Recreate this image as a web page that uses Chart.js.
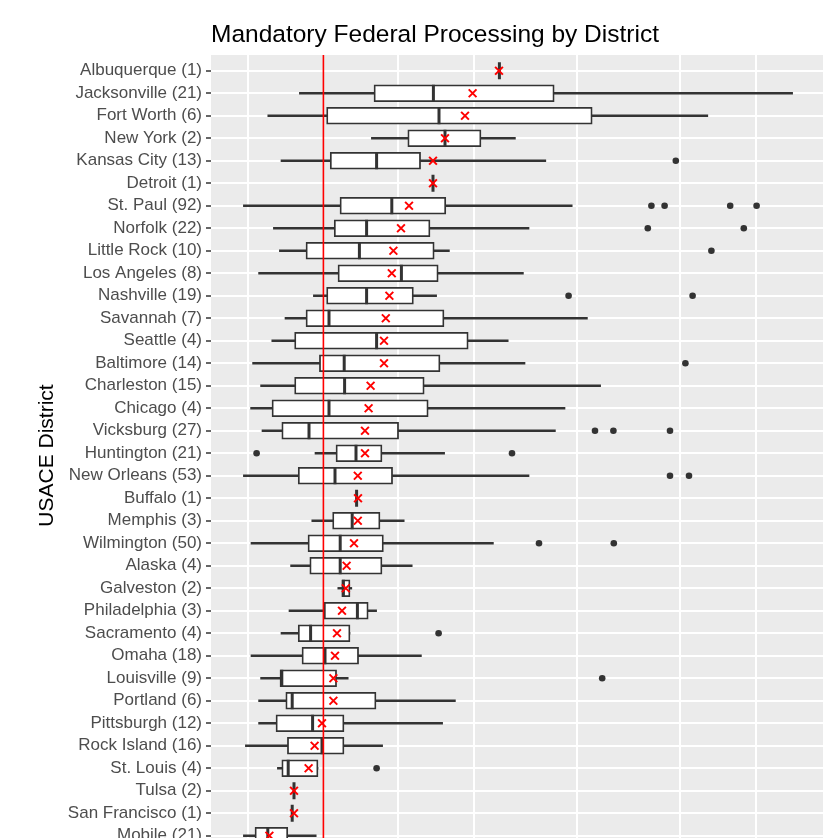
<!DOCTYPE html>
<html>
<head>
<meta charset="utf-8">
<script src="https://cdn.jsdelivr.net/npm/chart.js@4.4.0/dist/chart.umd.min.js"></script>
<style>
html, body { margin: 0; padding: 0; background: #ffffff; overflow: hidden; }
#wrap { width: 823px; height: 838px; overflow: hidden; position: relative; }
#c { position: absolute; left: 0; top: 0; display: block; }
</style>
</head>
<body>
<div id="wrap"><canvas id="c" width="823" height="856" style="width:823px;height:856px"></canvas></div>
<script>
// ---------- data ----------
const chartTitle = 'Mandatory Federal Processing by District';
const yAxisTitle = 'USACE District';

const categories = [
  'Albuquerque (1)', 'Jacksonville (21)', 'Fort Worth (6)', 'New York (2)', 'Kansas City (13)',
  'Detroit (1)', 'St. Paul (92)', 'Norfolk (22)', 'Little Rock (10)', 'Los Angeles (8)',
  'Nashville (19)', 'Savannah (7)', 'Seattle (4)', 'Baltimore (14)', 'Charleston (15)',
  'Chicago (4)', 'Vicksburg (27)', 'Huntington (21)', 'New Orleans (53)', 'Buffalo (1)',
  'Memphis (3)', 'Wilmington (50)', 'Alaska (4)', 'Galveston (2)', 'Philadelphia (3)',
  'Sacramento (4)', 'Omaha (18)', 'Louisville (9)', 'Portland (6)', 'Pittsburgh (12)',
  'Rock Island (16)', 'St. Louis (4)', 'Tulsa (2)', 'San Francisco (1)', 'Mobile (21)'
];

const whiskerLow  = [null, 22.1, 14.2, 40.1, 17.5, null, 8.1, 15.6, 17.1, 11.9, 25.6, 18.5, 15.2, 10.4, 12.4, 9.9, 12.75, 26.0, 8.1, null, 25.2, 10.0, 19.9, 31.7, 19.5, 17.5, 10.0, 12.4, 11.9, 11.9, 8.6, 16.6, null, null, 8.1];
const q1          = [null, 40.75, 28.9, 49.2, 29.8, null, 32.25, 30.8, 23.75, 31.75, 28.9, 23.75, 20.9, 27.1, 20.9, 15.25, 17.7, 31.25, 21.8, null, 30.4, 24.25, 24.7, 32.7, 28.3, 21.8, 22.75, 17.25, 18.7, 16.25, 19.1, 17.7, null, null, 11.0];
const median      = [72.1, 55.6, 57.0, 58.5, 41.4, 55.5, 45.2, 38.9, 37.1, 47.6, 38.9, 29.5, 41.4, 33.3, 33.4, 29.5, 24.5, 36.25, 31.0, 36.4, 35.3, 32.3, 32.3, 33.1, 36.6, 24.9, 28.5, 17.7, 20.3, 25.4, 27.75, 19.3, 20.75, 20.3, 14.2];
const q3          = [null, 85.8, 95.3, 67.5, 52.4, null, 58.7, 54.75, 55.8, 56.8, 50.6, 58.25, 64.3, 57.25, 53.3, 54.3, 46.9, 42.75, 45.4, null, 42.25, 43.1, 42.75, 34.75, 39.3, 34.75, 36.9, 31.4, 41.25, 33.25, 33.25, 26.75, null, null, 19.2];
const whiskerHigh = [null, 145.4, 124.2, 76.1, 83.7, null, 90.3, 79.5, 59.6, 78.1, 56.4, 94.1, 74.3, 78.5, 97.4, 88.5, 86.1, 58.4, 79.5, null, 48.3, 70.6, 50.3, 35.2, 41.4, null, 52.6, 34.3, 61.1, 57.9, 42.9, null, null, null, 26.3];
const means       = [72.0, 65.4, 63.5, 58.5, 55.5, 55.5, 49.5, 47.5, 45.6, 45.2, 44.6, 43.7, 43.25, 43.25, 39.9, 39.4, 38.5, 38.5, 36.7, 36.75, 36.7, 35.75, 33.9, 33.7, 32.75, 31.5, 31.0, 30.6, 30.6, 27.75, 25.9, 24.4, 20.75, 20.75, 14.6];
const outliers = [
  [], [], [], [], [116.2],
  [], [110.1, 113.4, 129.8, 136.4], [109.2, 133.2], [125.1], [],
  [89.4, 120.4], [], [], [118.6], [],
  [], [96.0, 100.6, 114.75], [11.4, 75.25], [114.75, 119.5], [],
  [], [82.0, 100.7], [], [], [],
  [56.9], [], [97.8], [], [],
  [], [41.4], [], [], []
];
const referenceValue = 28.1;
const gridValues = [9.25, 46.75, 65.75, 91.5, 117.25, 136.25];
const xMin = 0, xMax = 153;
const yMin = -0.7, yMax = 34.9;

// ---------- derived tables ----------
const rows = categories.map((_, i) => i);
const whiskerData = rows
  .filter(i => whiskerLow[i] != null || whiskerHigh[i] != null)
  .map(i => ({ x: [whiskerLow[i] ?? q1[i], whiskerHigh[i] ?? q3[i]], y: i }));
const boxData = rows.filter(i => q1[i] != null).map(i => ({ x: [q1[i], q3[i]], y: i }));
const medianData = rows.map(i => ({ x: median[i], y: i }));
const meanData = rows.map(i => ({ x: means[i], y: i }));
const outlierData = [];
outliers.forEach((list, i) => list.forEach(v => outlierData.push({ x: v, y: i })));

const FONT = '"Liberation Sans", Arial, sans-serif';

const panelPlugin = {
  id: 'panelBg',
  beforeDraw(chart) {
    const { ctx, chartArea: a } = chart;
    ctx.save();
    ctx.fillStyle = '#FFFFFF';
    ctx.fillRect(0, 0, chart.width, chart.height);
    ctx.fillStyle = '#EBEBEB';
    ctx.fillRect(a.left, a.top, a.right - a.left, a.bottom - a.top);
    ctx.restore();
  }
};
const titlePlugin = {
  id: 'ggTitle',
  afterDraw(chart) {
    const ctx = chart.ctx;
    ctx.save();
    ctx.font = '24.5px ' + FONT;
    ctx.fillStyle = '#000000';
    ctx.textAlign = 'left';
    ctx.textBaseline = 'alphabetic';
    ctx.fillText(chartTitle, chart.chartArea.left, 42);
    ctx.restore();
  }
};
function noPadding(s) {
  s.paddingLeft = 0; s.paddingRight = 0; s.paddingTop = 0; s.paddingBottom = 0;
}

new Chart(document.getElementById('c'), {
  type: 'scatter',
  data: {
    datasets: [
      { type: 'scatter', label: 'Mean', data: meanData, order: 0,
        pointStyle: 'crossRot', pointRadius: 5.5, pointHoverRadius: 5.5,
        pointBorderColor: '#FF0000', pointBackgroundColor: '#FF0000', pointBorderWidth: 2 },
      { type: 'scatter', label: 'Outliers', data: outlierData, order: 1,
        pointStyle: 'circle', pointRadius: 3.3, pointHoverRadius: 3.3,
        pointBackgroundColor: '#333333', pointBorderColor: '#333333', pointBorderWidth: 0 },
      { type: 'line', label: 'Reference', order: 2,
        data: [{ x: referenceValue, y: yMin }, { x: referenceValue, y: yMax }],
        borderColor: '#FF0000', borderWidth: 1.6, pointRadius: 0, fill: false },
      { type: 'scatter', label: 'Median', data: medianData, order: 3,
        pointStyle: 'line', pointRotation: 90, pointRadius: 8.5, pointHoverRadius: 8.5,
        pointBorderColor: '#333333', pointBorderWidth: 3 },
      { type: 'bar', label: 'Box', data: boxData, order: 4, indexAxis: 'y', grouped: false,
        categoryPercentage: 1, barPercentage: 1, maxBarThickness: 17,
        backgroundColor: '#FFFFFF', borderColor: '#333333', borderWidth: 1.8, borderSkipped: false },
      { type: 'bar', label: 'Whisker', data: whiskerData, order: 5, indexAxis: 'y', grouped: false,
        categoryPercentage: 1, barPercentage: 1, maxBarThickness: 1.7,
        backgroundColor: '#333333', borderWidth: 0 }
    ]
  },
  options: {
    responsive: false,
    maintainAspectRatio: false,
    devicePixelRatio: 1,
    animation: false,
    events: [],
    layout: { autoPadding: false, padding: { top: 55, left: 22, right: 0, bottom: 0 } },
    plugins: { legend: { display: false }, tooltip: { enabled: false }, title: { display: false } },
    scales: {
      x: {
        type: 'linear', min: xMin, max: xMax, offset: false,
        afterBuildTicks: s => { s.ticks = gridValues.map(v => ({ value: v })); },
        afterFit: s => { s.height = 0; noPadding(s); },
        ticks: { display: false },
        grid: { color: '#FFFFFF', lineWidth: 2, drawTicks: false, offset: false },
        border: { display: false }
      },
      y: {
        type: 'linear', reverse: true, min: yMin, max: yMax, offset: false,
        afterBuildTicks: s => { s.ticks = categories.map((_, i) => ({ value: i })); },
        afterFit: s => { s.width = 189; noPadding(s); },
        ticks: {
          autoSkip: false, padding: 4, color: '#4D4D4D',
          font: { family: FONT, size: 17 },
          callback: v => categories[v]
        },
        grid: { color: '#FFFFFF', lineWidth: 2, drawTicks: true, tickLength: 5,
                tickColor: '#333333', tickWidth: 1.5, offset: false },
        border: { display: false },
        title: { display: true, text: yAxisTitle, color: '#000000',
                 font: { family: FONT, size: 21 }, padding: { top: 13, bottom: 2 } }
      }
    }
  },
  plugins: [panelPlugin, titlePlugin]
});
</script>
</body>
</html>
